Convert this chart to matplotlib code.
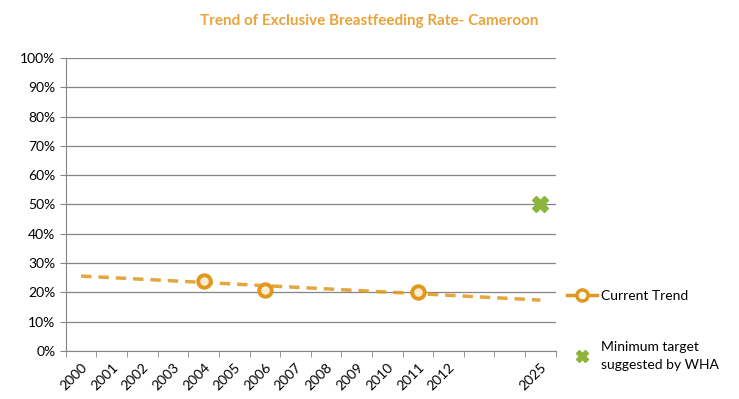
import numpy as np
import matplotlib.pyplot as plt
from matplotlib.lines import Line2D

plt.rcParams['font.family'] = ['Lato', 'DejaVu Sans']

# categories on the x axis (two empty slots before 2025)
categories = ["2000", "2001", "2002", "2003", "2004", "2005", "2006", "2007",
              "2008", "2009", "2010", "2011", "2012", "", "", "2025"]

# observed exclusive breastfeeding rate (%)
trend_years = ["2004", "2006", "2011"]
trend_values = [24, 21, 20]

# linear trend line (start / end)
trendline_years = ["2000", "2025"]
trendline_values = [25.6, 17.4]

# WHA target
target_years = ["2025"]
target_values = [50]

orange = "#E0981E"
green = "#8DB53C"

pos = {c: i for i, c in enumerate(categories) if c}

fig = plt.figure(figsize=(7.39, 3.99), dpi=100)
ax = fig.add_axes([0.089, 0.12, 0.663, 0.735])

ax.plot([pos[y] for y in trendline_years], trendline_values, color=orange,
        lw=2.5, ls=(0, (3, 2)), alpha=0.85, zorder=3)
x_obs = [pos[y] for y in trend_years]
ax.plot(x_obs, trend_values, ls="none", marker="o", ms=9,
        mfc="#FBEBD0", mec=orange, mew=2.8, zorder=4)
ax.plot([pos[y] for y in target_years], target_values, ls="none", marker="X",
        ms=12, color=green, zorder=5)

ax.set_ylim(0, 100)
ax.set_xlim(-0.5, len(categories) - 0.5)
ax.set_yticks(np.arange(0, 101, 10))
ax.set_yticklabels([f"{v}%" for v in range(0, 101, 10)], fontsize=10)
ax.set_xticks(range(len(categories)))
ax.set_xticklabels(categories, rotation=45, ha="right", rotation_mode="anchor", fontsize=10)
ax.tick_params(axis="x", length=0, pad=7)
ax.set_xticks(np.arange(-0.5, len(categories), 1), minor=True)
ax.tick_params(axis="x", which="minor", length=4, color="#868686")
ax.tick_params(axis="y", length=4, color="#868686")

ax.yaxis.grid(True, color="#868686", lw=0.9)
ax.set_axisbelow(True)
for s in ["top", "right"]:
    ax.spines[s].set_visible(False)
ax.spines["left"].set_color("#868686")
ax.spines["bottom"].set_color("#868686")

fig.suptitle("Trend of Exclusive Breastfeeding Rate- Cameroon", x=0.5, y=0.965,
             fontsize=11, fontweight="bold", color="#E8A33A")

handles = [
    Line2D([], [], color=orange, lw=2.5, marker="o", ms=8, mfc="white", mec=orange, mew=2.5),
    Line2D([], [], ls="none", marker="X", ms=9, color=green),
]
leg = fig.legend(handles, ["Current Trend", "Minimum target\nsuggested by WHA"],
                 loc="upper left", bbox_to_anchor=(0.75, 0.305), frameon=False,
                 fontsize=10, handlelength=2.2, handletextpad=0.3, labelspacing=2.8)
leg.get_texts()[1].set_linespacing(1.6)

fig.savefig("out.png", dpi=100)
